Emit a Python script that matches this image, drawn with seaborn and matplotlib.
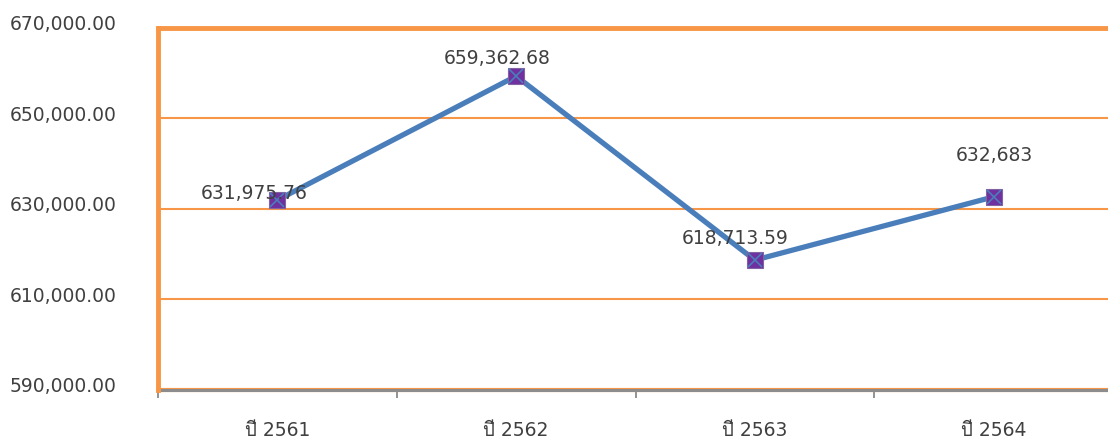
import matplotlib
matplotlib.use("Agg")
import matplotlib.pyplot as plt
from matplotlib import font_manager
from matplotlib.ft2font import FT2Font
import matplotlib.transforms as mtransforms
import seaborn as sns
import pandas as pd

years = ["ปี 2561", "ปี 2562", "ปี 2563", "ปี 2564"]
values = [631975.76, 659362.68, 618713.59, 632683]
labels = ["631,975.76", "659,362.68", "618,713.59", "632,683"]
yticks = [590000, 610000, 630000, 650000, 670000]

sns.set_theme(style="white")

# find a font with Thai glyphs
thai_font = None
for f in font_manager.fontManager.ttflist:
    try:
        cm = FT2Font(f.fname).get_charmap()
        if ord("ป") in cm and ord("ี") in cm:
            thai_font = f.name
            break
    except Exception:
        pass
fams = ["DejaVu Sans"] + ([thai_font] if thai_font else [])
plt.rcParams["font.family"] = fams

df = pd.DataFrame({"year": years, "value": values})

fig = plt.figure(figsize=(11.08, 4.42), dpi=100)
ax = fig.add_axes([158 / 1108, 1 - 390 / 442, 955 / 1108, 362 / 442])

for y in yticks[1:-1]:
    ax.axhline(y, color="#F79646", lw=1.5, zorder=1)
ax.axhline(670000, color="#F79646", lw=3.5, zorder=1, clip_on=False)
ax.axhline(590000, color="#F79646", lw=3.0, zorder=1, clip_on=False)

sns.lineplot(data=df, x="year", y="value", ax=ax, color="#4A7EBB", lw=3.8,
             marker="s", markersize=11, markerfacecolor="#7030A0",
             markeredgecolor="#8064A2", markeredgewidth=0.8, zorder=3)
ax.plot(range(len(years)), values, ls="none", marker="x", markersize=10,
        color="#4A7EBB", mew=1.2, zorder=4)

offsets = [(-23, 7), (-19, 18), (-20, 22), (1, 41)]
for i, (v, lab, off) in enumerate(zip(values, labels, offsets)):
    ax.annotate(lab, (i, v), xytext=(off[0] * 0.72, off[1] * 0.72),
                textcoords="offset points", ha="center", va="center",
                fontsize=13.5, color="#404040", zorder=5)

ax.set_xlim(-0.5, 3.5)
ax.set_ylim(590000, 670000)
ax.set_yticks(yticks)
ax.set_yticklabels([f"{v:,.2f}" for v in yticks])
ax.set_xticks(range(len(years)))
ax.set_xticklabels(years)
ax.set_xticks([-0.5, 0.5, 1.5, 2.5, 3.5], minor=True)
ax.tick_params(axis="y", length=0, pad=148 * 0.72, labelsize=13.5, labelcolor="#404040")
ax.tick_params(axis="x", which="major", length=0, pad=22, labelsize=13.5, labelcolor="#404040")
ax.tick_params(axis="x", which="minor", bottom=True, length=6, width=1.2,
               color="#808080", direction="out")
shift = mtransforms.ScaledTranslation(0, 5 / 100, fig.dpi_scale_trans)
for lab in ax.get_yticklabels():
    lab.set_horizontalalignment("left")
    lab.set_transform(lab.get_transform() + shift)

ax.set_xlabel("")
ax.set_ylabel("")
for s in ["top", "right"]:
    ax.spines[s].set_visible(False)
ax.spines["left"].set_color("#F79646")
ax.spines["left"].set_linewidth(3.5)
ax.spines["bottom"].set_color("#8C8C8C")
ax.spines["bottom"].set_linewidth(2.2)
ax.spines["bottom"].set_zorder(2)

fig.savefig("out.png", dpi=100)
